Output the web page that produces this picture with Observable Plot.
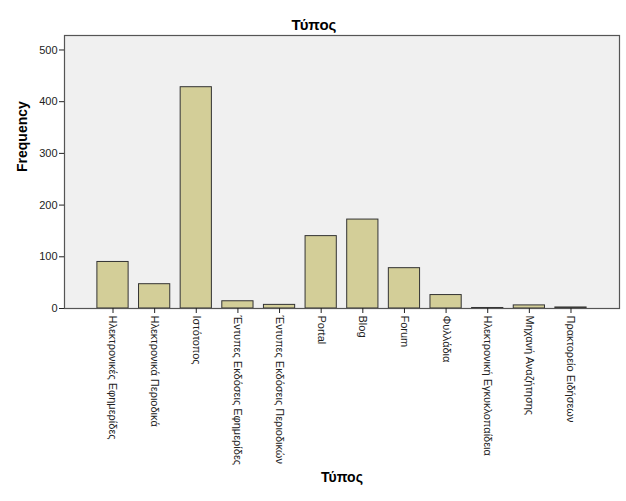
<!DOCTYPE html>
<html>
<head>
<meta charset="utf-8">
<script src="https://cdn.jsdelivr.net/npm/d3@7"></script>
<script src="https://cdn.jsdelivr.net/npm/@observablehq/plot@0.6"></script>
<style>
  html, body { margin: 0; padding: 0; background: #fff; }
  svg { display: block; }
</style>
</head>
<body>
<div id="chart"></div>
<script>
const categories = [
  "Ηλεκτρονικές Εφημερίδες",
  "Ηλεκτρονικά Περιοδικά",
  "Ιστότοπος",
  "Έντυπες Εκδόσεις Εφημερίδες",
  "Έντυπες Εκδόσεις Περιοδικών",
  "Portal",
  "Blog",
  "Forum",
  "Φυλλάδια",
  "Ηλεκτρονική Εγκυκλοπαίδεια",
  "Μηχανή Αναζήτησης",
  "Πρακτορείο Ειδήσεων"
];
const frequencies = [90, 47, 428, 14, 7, 140, 172, 78, 26, 1, 6, 2];
const yTicks = [0, 100, 200, 300, 400, 500];
const chartTitle = "Τύπος";
const xLabel = "Τύπος";
const yLabel = "Frequency";

const data = categories.map((c, i) => ({ category: c, value: frequencies[i] }));

const font = "'Liberation Sans', Arial, sans-serif";

const chart = Plot.plot({
  width: 626,
  height: 501,
  marginLeft: 64,
  marginRight: 7,
  marginTop: 35,
  marginBottom: 193,
  style: { fontFamily: font, fontSize: "11px", color: "#222", background: "#fff" },
  x: { domain: categories, paddingInner: 0.25, paddingOuter: 0.79, round: false, label: null },
  y: { domain: [0, 528], label: null },
  marks: [
    Plot.frame({ fill: "#F0F0F0", stroke: "none" }),
    Plot.barY(data, { x: "category", y: "value", fill: "#D3CE98", stroke: "#333", strokeWidth: 1 }),
    Plot.frame({ stroke: "#555", strokeWidth: 1.2 }),
    Plot.axisY({ ticks: yTicks, tickSize: 5, tickPadding: 2, label: null, fontSize: 11 }),
    Plot.axisX({ tickSize: 5, tickPadding: 2, tickRotate: 90, label: null, fontSize: 11 }),
    Plot.text([chartTitle], { frameAnchor: "top", dy: -16, text: d => d, fontWeight: "bold", fontSize: 15, fill: "#000", dx: -28 }),
    Plot.text([xLabel], { frameAnchor: "bottom", dy: 173, text: d => d, fontWeight: "bold", fontSize: 14, fill: "#000" }),
    Plot.text([yLabel], { frameAnchor: "left", dx: -42, text: d => d, fontWeight: "bold", fontSize: 14, rotate: -90, fill: "#000" })
  ]
});
document.getElementById("chart").appendChild(chart);
</script>
</body>
</html>
